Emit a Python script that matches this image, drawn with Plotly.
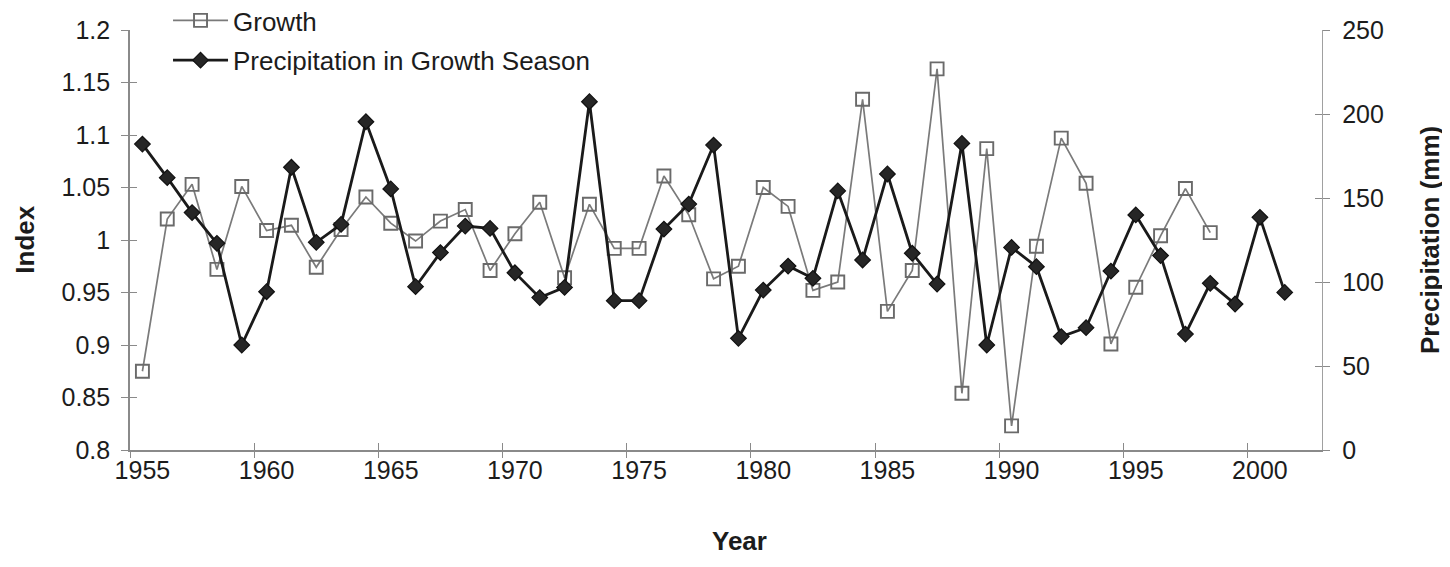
import plotly.graph_objects as go

years_precip = list(range(1955, 2002))
precip = [182.1, 162.1, 141.3, 123.0, 62.5, 94.2, 168.3, 123.6, 134.3, 195.4,
          155.4, 97.2, 117.5, 133.3, 131.9, 105.5, 90.7, 96.8, 207.3, 88.9,
          88.9, 131.5, 146.4, 181.5, 66.5, 95.2, 109.5, 102.2, 154.2, 113.1,
          164.3, 117.1, 98.8, 182.5, 62.5, 120.6, 109.1, 67.5, 72.8, 106.5,
          139.9, 115.7, 69.0, 99.2, 86.9, 138.5, 93.8]

years_growth = list(range(1955, 1999))
growth = [0.875, 1.020, 1.053, 0.972, 1.051, 1.009, 1.014, 0.974, 1.010, 1.041,
          1.016, 0.999, 1.018, 1.029, 0.971, 1.006, 1.036, 0.964, 1.034, 0.992,
          0.992, 1.061, 1.024, 0.963, 0.975, 1.050, 1.032, 0.952, 0.960, 1.134,
          0.932, 0.971, 1.163, 0.854, 1.087, 0.823, 0.994, 1.097, 1.054, 0.901,
          0.955, 1.004, 1.049, 1.007]

first_year, last_year = 1955, 2002
label_years = list(range(1955, 2001, 5))
boundary_ticks = [y - 0.5 for y in label_years]
left_ticks = [0.8, 0.85, 0.9, 0.95, 1.0, 1.05, 1.1, 1.15, 1.2]
left_labels = ["0.8", "0.85", "0.9", "0.95", "1", "1.05", "1.1", "1.15", "1.2"]
right_ticks = [0, 50, 100, 150, 200, 250]

FONT = "Liberation Sans, Arial, Helvetica, sans-serif"
AX = "#8a8a8a"
TXT = "#1c1c1c"
xr = [first_year - 0.5, last_year + 0.5]

fig = go.Figure()
fig.add_trace(go.Scatter(
    x=years_growth, y=growth, name="Growth", mode="lines+markers",
    line=dict(color="#7a7a7a", width=1.7),
    marker=dict(symbol="square-open", size=13, color="#6a6a6a", line=dict(width=1.9, color="#6a6a6a")),
    xaxis="x", yaxis="y", legendgroup="g1"))
fig.add_trace(go.Scatter(
    x=years_precip, y=precip, name="Precipitation in Growth Season", mode="lines+markers",
    line=dict(color="#1a1a1a", width=2.8),
    marker=dict(symbol="diamond", size=12, color="#262626", line=dict(width=1.2, color="#111111")),
    xaxis="x", yaxis="y2", legendgroup="g2"))
# empty helper traces so tick-only overlay axes get drawn
for xa, ya in [("x2", "y3"), ("x3", "y4")]:
    fig.add_trace(go.Scatter(x=[], y=[], xaxis=xa, yaxis=ya, showlegend=False, hoverinfo="skip"))

title_font = dict(family=FONT, size=26, color=TXT)
fig.update_layout(
    width=1450, height=567,
    margin=dict(l=122, r=136, t=22, b=125, autoexpand=False),
    paper_bgcolor="white", plot_bgcolor="white",
    font=dict(family=FONT, size=25, color=TXT),
    showlegend=True,
    legend=dict(x=0.0319, y=1.0786, xanchor="left", yanchor="top", itemwidth=55,
                bgcolor="rgba(0,0,0,0)", font=dict(size=26, color=TXT),
                tracegroupgap=3, traceorder="grouped"),
    xaxis=dict(range=xr, tickmode="array", tickvals=label_years,
               ticktext=[str(y) for y in label_years], ticks="", showline=True,
               linecolor=AX, linewidth=1.6, showgrid=False, zeroline=False, ticklabelstandoff=-3),
    xaxis2=dict(range=xr, overlaying="x", tickmode="array", tickvals=boundary_ticks,
                ticks="outside", ticklen=7, tickcolor=AX, tickwidth=1.3, showticklabels=False,
                showline=False, showgrid=False, zeroline=False),
    xaxis3=dict(range=xr, overlaying="x", tickmode="array", tickvals=boundary_ticks,
                ticks="inside", ticklen=7, tickcolor=AX, tickwidth=1.3, showticklabels=False,
                showline=False, showgrid=False, zeroline=False),
    yaxis=dict(range=[0.8, 1.2], tickmode="array", tickvals=left_ticks, ticktext=left_labels,
               ticks="outside", ticklen=7, tickcolor=AX, tickwidth=1.3, showline=True,
               linecolor=AX, linewidth=1.6, showgrid=False, zeroline=False, ticklabelstandoff=6),
    yaxis2=dict(range=[0, 250], overlaying="y", side="right", tickmode="array", tickvals=right_ticks,
                ticks="outside", ticklen=7, tickcolor=AX, tickwidth=1.3, showline=True,
                linecolor="#a0a0a0", linewidth=1.4, showgrid=False, zeroline=False, ticklabelstandoff=7),
    yaxis3=dict(range=[0.8, 1.2], overlaying="y", side="left", tickmode="array",
                tickvals=left_ticks, ticks="inside", ticklen=7, tickcolor=AX, tickwidth=1.3,
                showticklabels=False, showline=False, showgrid=False, zeroline=False),
    yaxis4=dict(range=[0, 250], overlaying="y", side="right", tickmode="array",
                tickvals=right_ticks, ticks="inside", ticklen=7, tickcolor=AX, tickwidth=1.3,
                showticklabels=False, showline=False, showgrid=False, zeroline=False),
    annotations=[
        dict(text="<b>Year</b>", xref="paper", yref="paper", x=0.5117, y=-0.2167,
             xanchor="center", yanchor="middle", showarrow=False, font=title_font),
        dict(text="<b>Index</b>", xref="paper", yref="paper", x=-0.0884, y=0.5,
             xanchor="center", yanchor="middle", showarrow=False, textangle=-90, font=title_font),
        dict(text="<b>Precipitation (mm)</b>", xref="paper", yref="paper", x=1.0906, y=0.5,
             xanchor="center", yanchor="middle", showarrow=False, textangle=-90, font=title_font),
    ],
)
fig.update_layout(xaxis2_anchor="y3", xaxis3_anchor="y4", yaxis3_anchor="x2", yaxis4_anchor="x3")

fig.write_html("out.html")
